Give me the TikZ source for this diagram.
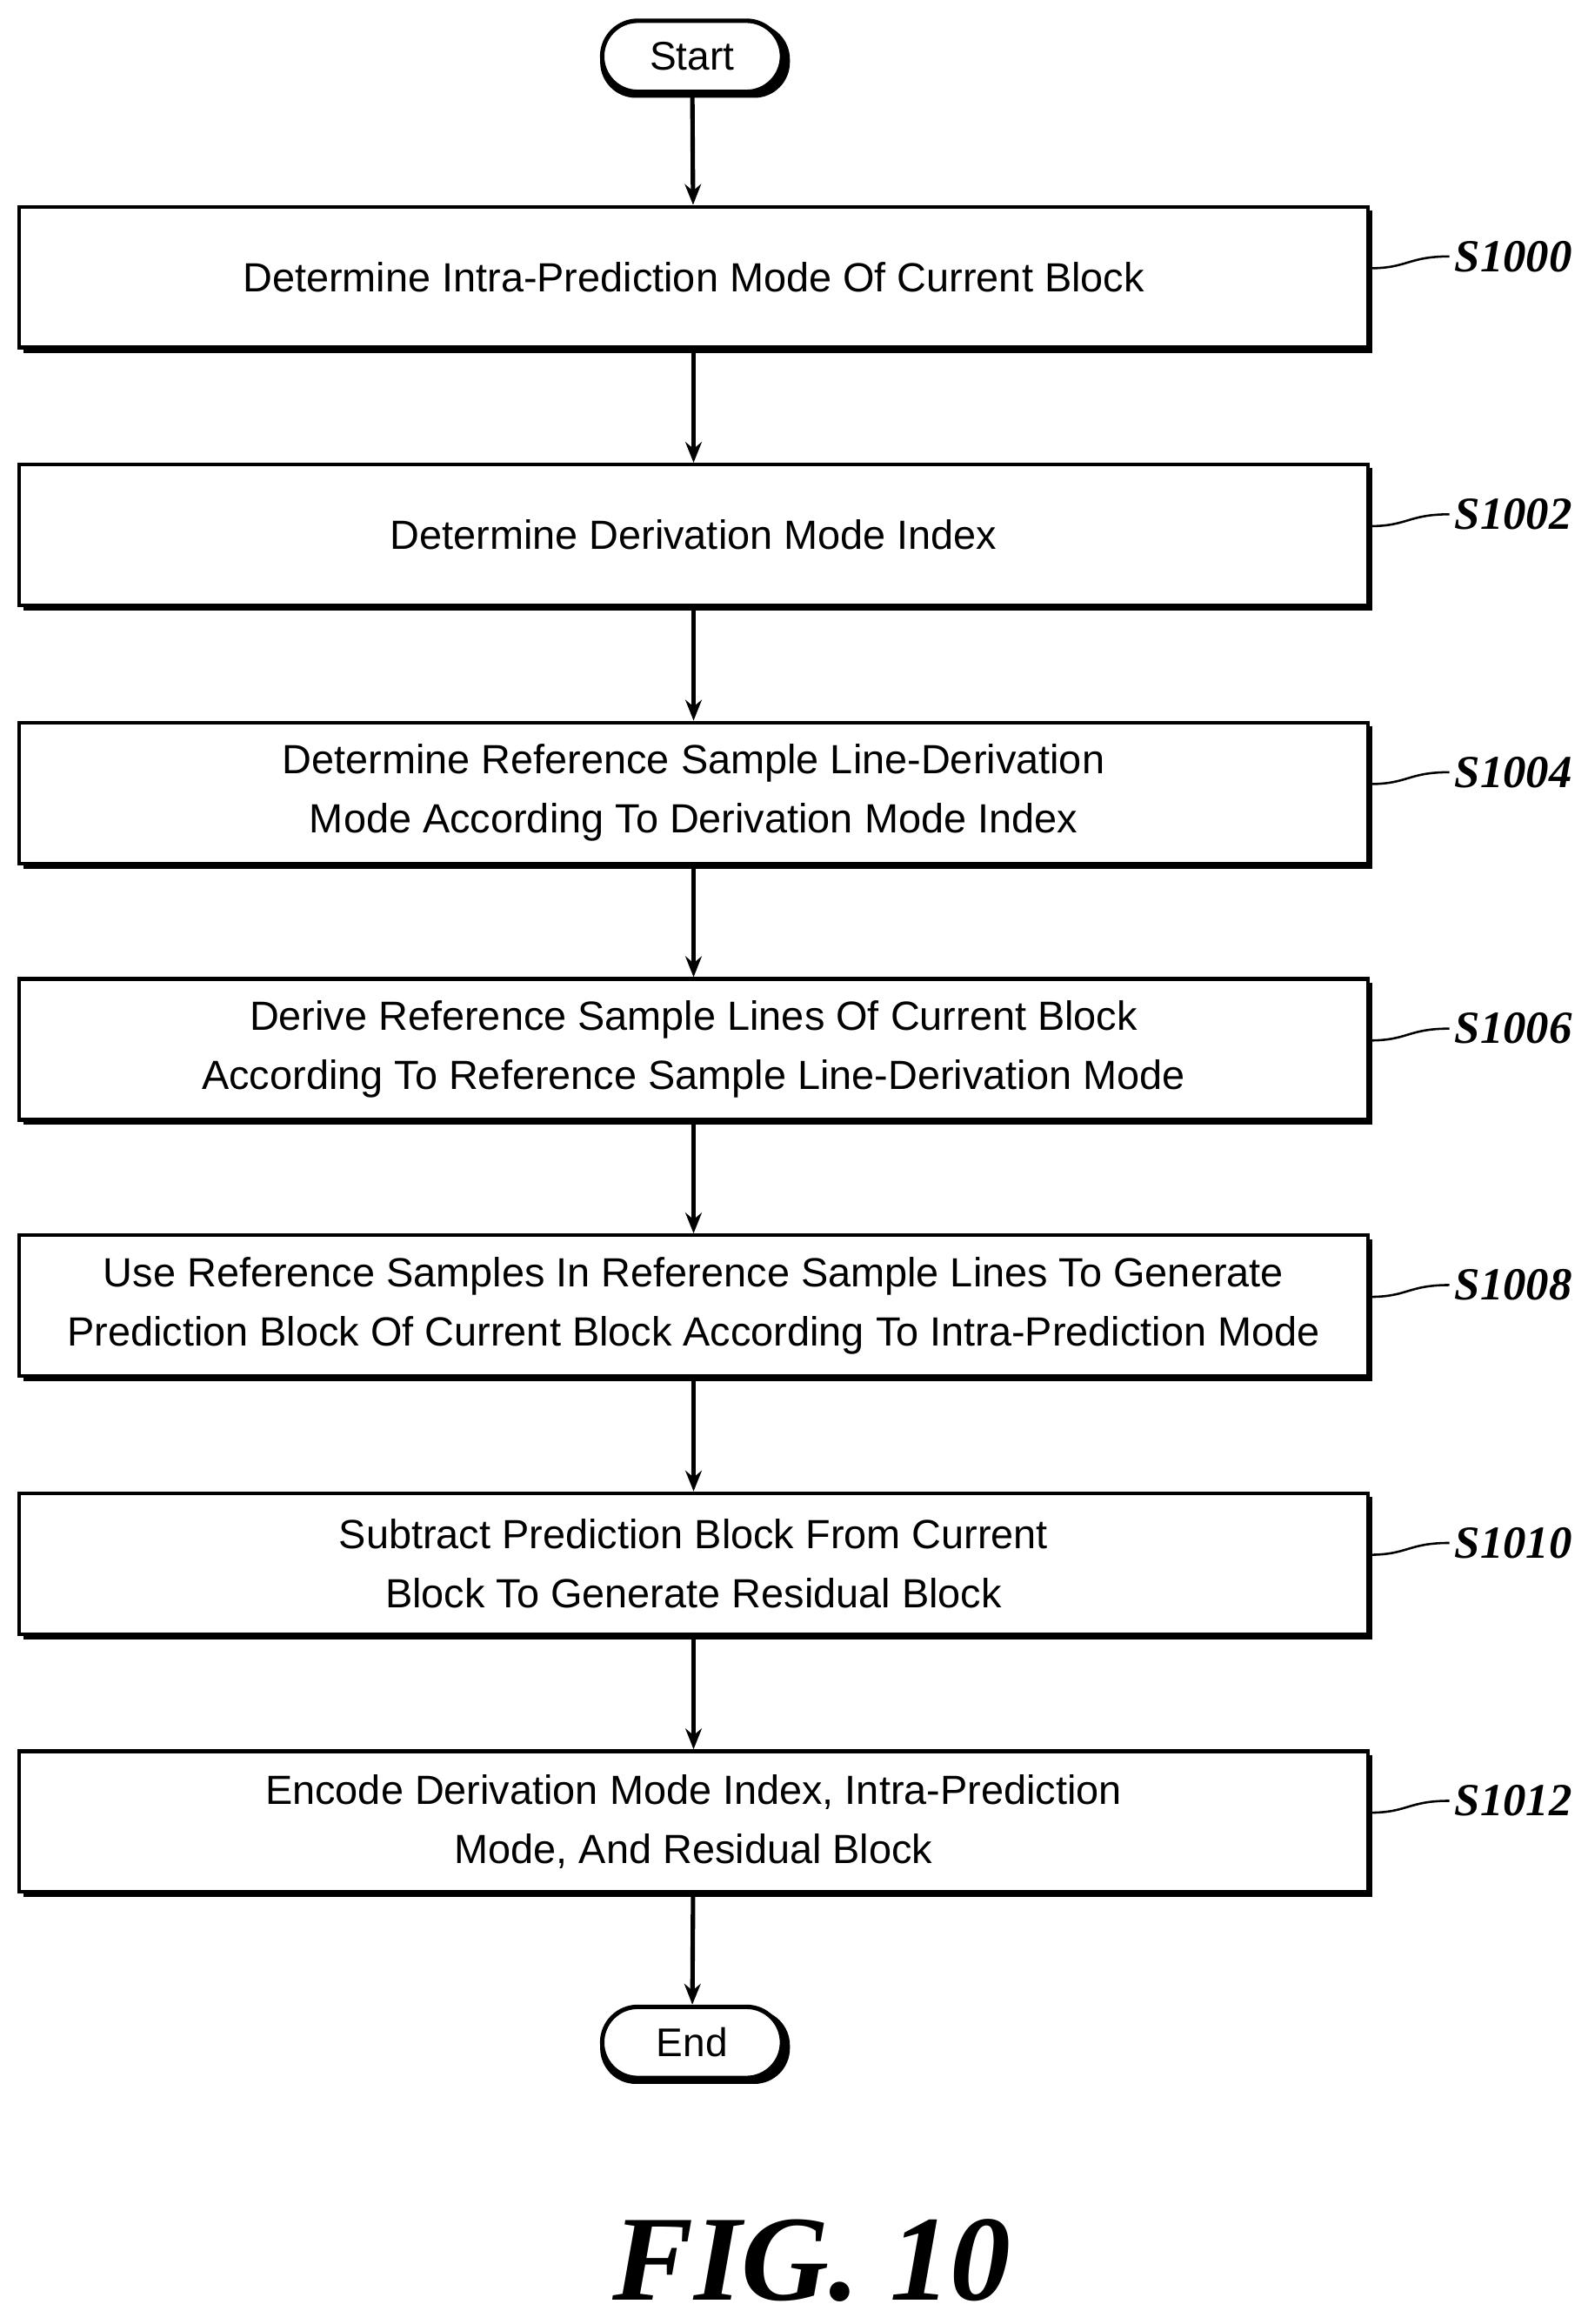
\documentclass[tikz,border=0pt]{standalone}
\usepackage{fontspec}
\setmainfont{Liberation Sans}
\newfontfamily\lblfont{Liberation Serif}
\usetikzlibrary{arrows.meta,shapes.misc}
\begin{document}
\begin{tikzpicture}[x=1pt,y=-1pt,
  box/.style={draw,line width=2.5pt,minimum width=910pt,minimum height=95pt,align=center,font=\fontsize{27.5}{40}\selectfont},
  term/.style={draw,line width=3pt,rounded rectangle,minimum width=128pt,minimum height=48pt,font=\fontsize{27}{30}\selectfont},
  arr/.style={line width=3pt,-{Stealth[length=14pt,width=11pt]}},
  lbl/.style={font=\lblfont\fontsize{31}{34}\selectfont\bfseries\itshape,anchor=west},
  wav/.style={line width=1.5pt}]
\useasboundingbox (0,0) rectangle (1071,1568);
\fill (405,16) [rounded corners=24pt] rectangle (533,66);
\node[term,fill=white] (start) at (467,38) {Start};
\fill (405,1356) [rounded corners=24pt] rectangle (533,1406);
\node[term,fill=white] (end) at (467,1378) {End};
\foreach \n/\y/\t/\s in {
 b1/187/{Determine Intra-Prediction Mode Of Current Block}/S1000,
 b2/361/{Determine Derivation Mode Index}/S1002,
 b3/535/{Determine Reference Sample Line-Derivation\\Mode According To Derivation Mode Index}/S1004,
 b4/708/{Derive Reference Sample Lines Of Current Block\\According To Reference Sample Line-Derivation Mode}/S1006,
 b5/881/{Use Reference Samples In Reference Sample Lines To Generate\\Prediction Block Of Current Block According To Intra-Prediction Mode}/S1008,
 b6/1055/{Subtract Prediction Block From Current\\Block To Generate Residual Block}/S1010,
 b7/1229/{Encode Derivation Mode Index, Intra-Prediction\\Mode, And Residual Block}/S1012}{
  \fill (468-452,\y-45) rectangle (468+458,\y+51);
  \node[box,fill=white] (\n) at (468,\y) {\t};
  \coordinate (\n w) at (978,\y-14);
  \draw[wav] (\n.east|-0,\y-6) .. controls (950,\y-6) and (950,\y-14) .. (\n w);
  \node[lbl] at (\n w) {\s};
}
\draw[arr] (start) -- (b1);
\draw[arr] (b1) -- (b2);
\draw[arr] (b2) -- (b3);
\draw[arr] (b3) -- (b4);
\draw[arr] (b4) -- (b5);
\draw[arr] (b5) -- (b6);
\draw[arr] (b6) -- (b7);
\draw[arr] (b7) -- (end);
\node[font=\lblfont\fontsize{82}{90}\selectfont\bfseries\itshape] (fig) at (548,1525) {FIG. 10};
\end{tikzpicture}
\end{document}
